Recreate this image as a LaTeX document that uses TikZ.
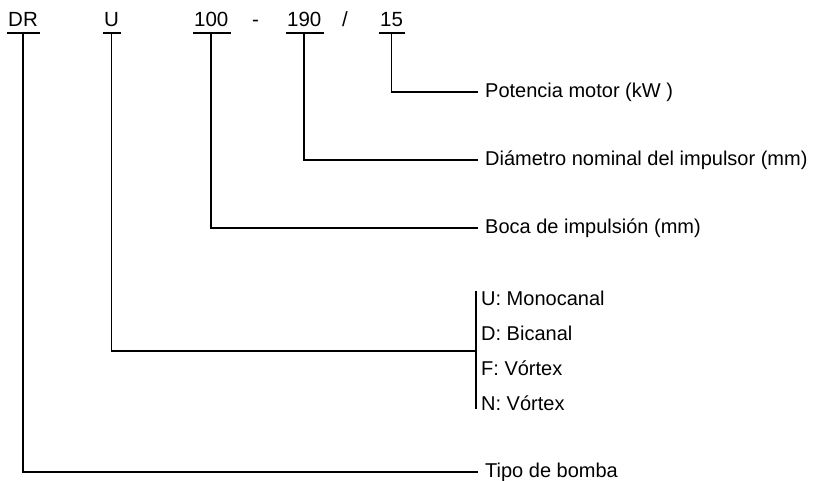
\documentclass[tikz,border=0pt]{standalone}
\usepackage{fontspec}
\setmainfont{Liberation Sans}
\begin{document}
\begin{tikzpicture}[x=1pt,y=1pt,yscale=-1,
  code/.style={inner sep=0pt,anchor=base west,font=\fontsize{20.5}{24}\selectfont},
  desc/.style={inner xsep=8pt,inner ysep=0pt,anchor=west,font=\fontsize{20}{24}\selectfont},
  opt/.style={inner xsep=5pt,inner ysep=0pt,anchor=west,font=\fontsize{20}{24}\selectfont},
  lead/.style={line width=1.7pt,line cap=rect}]
\useasboundingbox (0,0) rectangle (833,481);

% Code parts
\node [code] (dr) at (8,27) {DR};
\node [code] (u) at (104,27) {U};
\node [code] (boca) at (194,27) {100};
\node [code] (sep1) at (252,27) {-};
\node [code] (diam) at (287,27) {190};
\node [code] (sep2) at (342,27) {/};
\node [code] (pot) at (380,27) {15};

% Underlines
\foreach \n in {dr,u,boca,diam,pot}
  \draw [line width=1.7pt] ([shift={(-1,6)}]\n.base west) -- ([shift={(2,6)}]\n.base east);

% Text Node
\node [desc] (potd) at (477,92) {Potencia motor (kW )};
% Text Node
\node [desc] (diamd) at (477,160) {Diámetro nominal del impulsor (mm)};
% Text Node
\node [desc] (bocad) at (477,228) {Boca de impulsión (mm)};
% Text Node
\node [desc] (tipod) at (477,472) {Tipo de bomba};

% Options of U
\coordinate (bartop) at (476,292);
\coordinate (barbot) at (476,408);
\coordinate (barmid) at (476,351);
\node [opt] (o1) at (476,298) {U: Monocanal};
\node [opt] (o2) at (476,333) {D: Bicanal};
\node [opt] (o3) at (476,368) {F: Vórtex};
\node [opt] (o4) at (476,403) {N: Vórtex};
\draw [lead] (bartop) -- (barbot);

% Leaders
\draw [lead] ([yshift=6]pot.base) |- (potd.west);
\draw [lead] ([yshift=6]diam.base) |- (diamd.west);
\draw [lead] ([yshift=6]boca.base) |- (bocad.west);
\draw [lead] ([yshift=6]u.base) |- (barmid);
\draw [lead] ([yshift=6]dr.base) |- (tipod.west);
\end{tikzpicture}
\end{document}
